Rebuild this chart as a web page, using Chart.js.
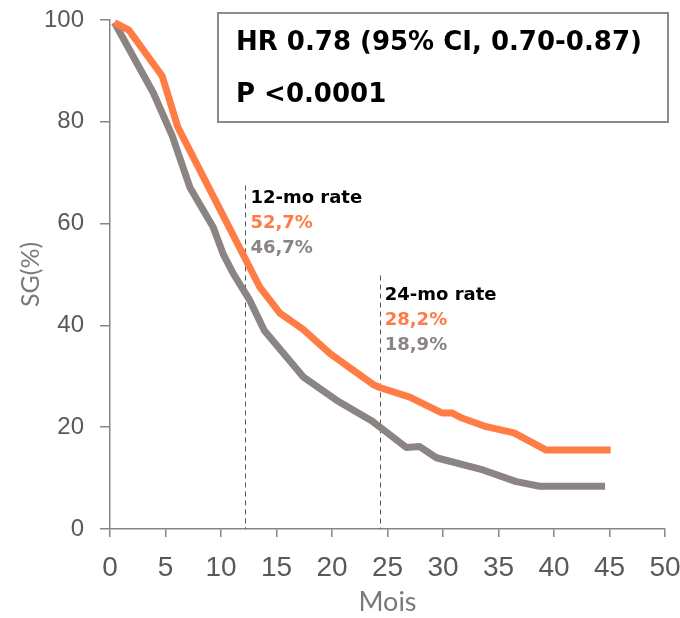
<!DOCTYPE html>
<html>
<head>
<meta charset="utf-8">
<script src="https://cdn.jsdelivr.net/npm/chart.js@4.4.1/dist/chart.umd.min.js"></script>
<style>
  html, body { margin: 0; padding: 0; background: #fff; }
  #wrap { width: 680px; height: 618px; position: relative; }
</style>
</head>
<body>
<div id="wrap"><canvas id="km"></canvas></div>
<script>
// survival curves (months, % alive)
const orangeMonths = [0.4, 1.7, 4.7, 6.1, 13.5, 15.3, 17.4, 19.8, 21.9, 23.7, 24.3, 27.0, 29.9, 30.8, 31.7, 33.9, 36.4, 39.3, 45.1]
const orangeValues = [99.5, 98, 89, 79, 47.5, 42.4, 39.2, 34.5, 31.2, 28.4, 27.8, 25.9, 22.8, 22.8, 21.8, 20.1, 18.9, 15.5, 15.5]
const grayMonths = [0.4, 2.4, 3.9, 5.6, 7.2, 9.3, 10.2, 11.1, 12.6, 13.9, 17.4, 20.4, 23.6, 26.7, 27.9, 29.4, 33.6, 36.6, 38.7, 44.6]
const grayValues = [99.5, 91.6, 85.7, 77.3, 67.1, 59.3, 54, 50.2, 44.9, 39, 29.9, 25.3, 21.2, 16, 16.2, 14, 11.6, 9.3, 8.4, 8.4]

const xTicks = [0, 5, 10, 15, 20, 25, 30, 35, 40, 45, 50]
const yTicks = [0, 20, 40, 60, 80, 100]

// landmark rates
const rateMonths = [12.2, 24.3]
const rateTops = [67.5, 49.8]
const rateLabelAt = [64, 45]
const rateTitles = ['12-mo rate', '24-mo rate']
const orangeRates = ['52,7%', '28,2%']
const grayRates = ['46,7%', '18,9%']

const statLines = ['HR 0.78 (95% CI, 0.70-0.87)', 'P <0.0001']

const ORANGE = '#ff7c45'
const GRAY = '#8a8483'

const toPoints = (xs, ys) => xs.map((x, i) => ({ x: x, y: ys[i] }))

const overlay = {
    id: 'overlay',
    beforeDatasetsDraw(chart) {
        const { ctx, scales: { x, y } } = chart
        ctx.save()
        ctx.strokeStyle = '#555555'
        ctx.lineWidth = 1
        ctx.setLineDash([5, 4])
        rateMonths.forEach((m, i) => {
            const px = Math.round(x.getPixelForValue(m)) + 0.5
            ctx.beginPath()
            ctx.moveTo(px, y.getPixelForValue(rateTops[i]))
            ctx.lineTo(px, y.getPixelForValue(0))
            ctx.stroke()
        })
        ctx.restore()
    },
    afterDatasetsDraw(chart) {
        const { ctx, scales: { x, y } } = chart
        ctx.save()
        ctx.textBaseline = 'alphabetic'
        ctx.textAlign = 'left'
        ctx.font = 'bold 18px "DejaVu Sans", sans-serif'
        rateMonths.forEach((m, i) => {
            const px = x.getPixelForValue(m) + 5
            const base = y.getPixelForValue(rateLabelAt[i])
            ctx.fillStyle = '#000'
            ctx.fillText(rateTitles[i], px, base)
            ctx.fillStyle = ORANGE
            ctx.fillText(orangeRates[i], px, base + 25)
            ctx.fillStyle = GRAY
            ctx.fillText(grayRates[i], px, base + 50)
        })

        // stats box
        ctx.strokeStyle = '#8c8c8c'
        ctx.lineWidth = 2
        ctx.strokeRect(218, 13, 450, 109)
        ctx.fillStyle = '#000'
        ctx.font = 'bold 26px "DejaVu Sans", sans-serif'
        ctx.fillText(statLines[0], 236, 50)
        ctx.fillText(statLines[1], 236, 102)
        ctx.restore()
    }
}

new Chart(document.getElementById('km'), {
    type: 'line',
    data: {
        datasets: [{
            data: toPoints(orangeMonths, orangeValues),
            borderColor: ORANGE,
            borderWidth: 7,
            pointRadius: 0,
            tension: 0,
            borderJoinStyle: 'round',
            fill: false
        }, {
            data: toPoints(grayMonths, grayValues),
            borderColor: GRAY,
            borderWidth: 7,
            pointRadius: 0,
            tension: 0,
            borderJoinStyle: 'round',
            fill: false
        }]
    },
    options: {
        responsive: true,
        maintainAspectRatio: false,
        animation: false,
        layout: { padding: { top: 20, right: 15, left: 0, bottom: 0 } },
        plugins: {
            legend: { display: false },
            tooltip: { enabled: false }
        },
        scales: {
            x: {
                type: 'linear',
                min: 0,
                max: 50,
                afterBuildTicks: s => { s.ticks = xTicks.map(v => ({ value: v })) },
                afterFit: s => { s.height = 89; s.paddingLeft = 0; s.paddingRight = 0 },
                border: { display: true, color: '#868686', width: 1.5 },
                grid: { drawOnChartArea: false, drawTicks: true, tickLength: 8, color: '#868686', lineWidth: 1.5 },
                ticks: { color: '#595959', padding: 14, maxRotation: 0, font: { family: '"Liberation Sans Narrow", "Liberation Sans", sans-serif', size: 28 } },
                title: { display: true, text: 'Mois', color: '#7a7a7a', padding: { top: 2, bottom: 0 }, font: { family: 'Lato, sans-serif', size: 27 } }
            },
            y: {
                min: 0,
                max: 100,
                afterBuildTicks: s => { s.ticks = yTicks.map(v => ({ value: v })) },
                afterFit: s => { s.width = 110; s.paddingTop = 0; s.paddingBottom = 0 },
                border: { display: true, color: '#868686', width: 1.5 },
                grid: { drawOnChartArea: false, drawTicks: true, tickLength: 10, color: '#868686', lineWidth: 1.5 },
                ticks: { color: '#595959', padding: 16, font: { family: '"Liberation Sans", Arial, sans-serif', size: 24 } },
                title: { display: true, text: 'SG(%)', color: '#7a7a7a', padding: { top: 16, bottom: 0 }, font: { family: 'Lato, sans-serif', size: 25 } }
            }
        }
    },
    plugins: [overlay]
})
</script>
</body>
</html>
